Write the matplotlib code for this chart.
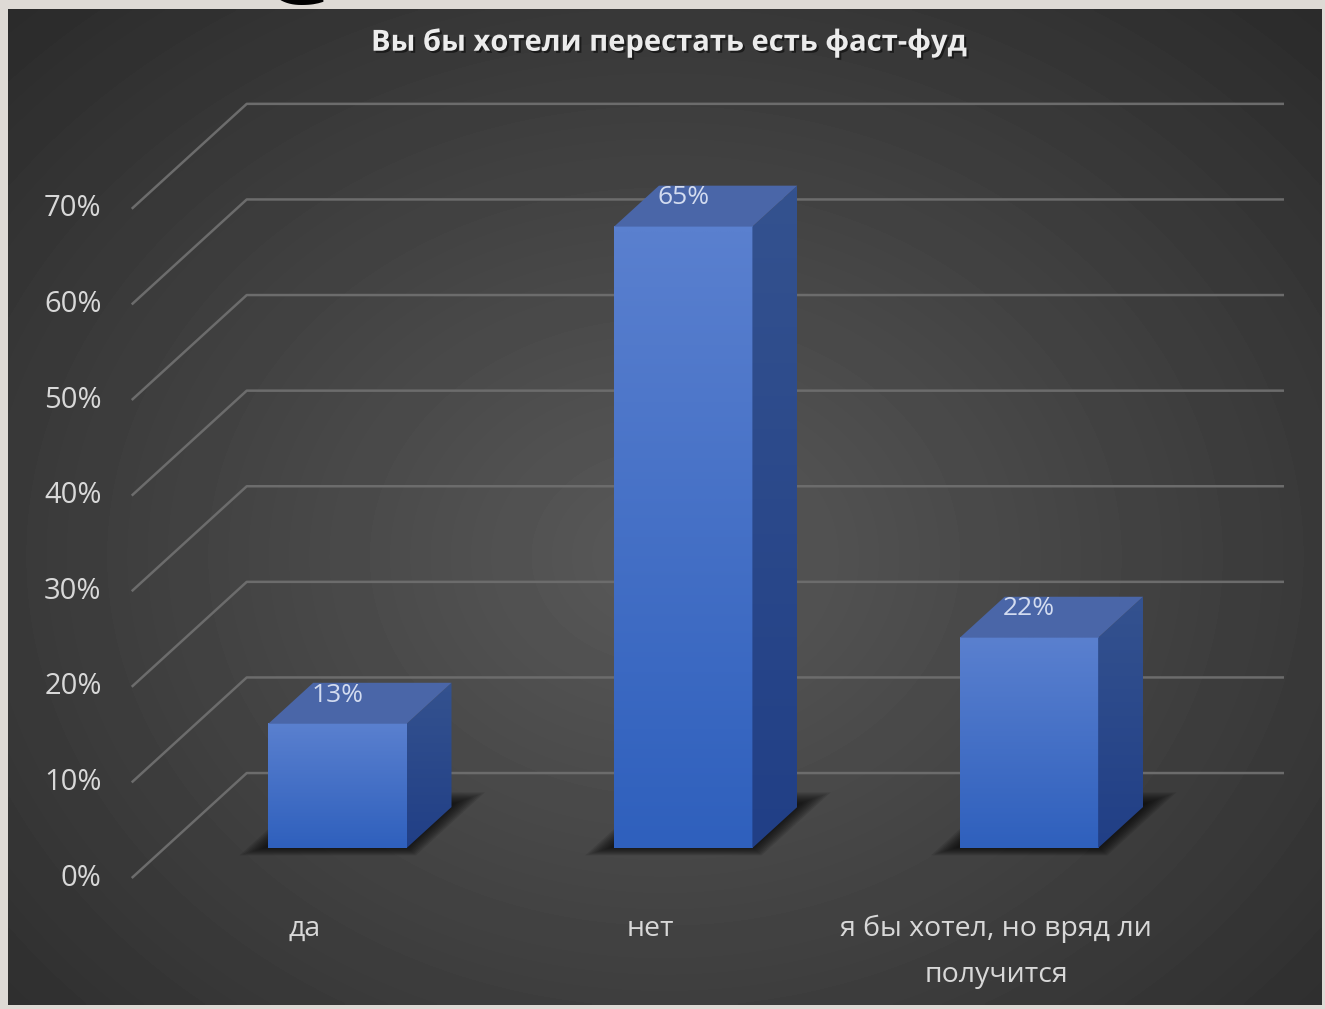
import matplotlib.pyplot as plt
import matplotlib.patheffects as pe
import numpy as np
from matplotlib.patches import Polygon

# survey answers and their shares, %
categories = ["да", "нет", "я бы хотел, но вряд ли\nполучится"]
shares = [13, 65, 22]
ticks = [0, 10, 20, 30, 40, 50, 60, 70]
tick_labels = [f"{t}%" for t in ticks]
title = "Вы бы хотели перестать есть фаст-фуд"

plt.rcParams["font.family"] = ["Open Sans", "DejaVu Sans"]

W, H = 1325, 1009
fig = plt.figure(figsize=(W / 100, H / 100), dpi=100)
fig.patch.set_facecolor("#dedad5")

# big slide letter peeking out above the chart panel
fig.text(292 / W, 1 - 4 / H, "С", fontsize=86, color="black",
         ha="center", va="baseline", zorder=-5)

# dark panel with a soft radial glow
panel = fig.add_axes([8 / W, 4 / H, 1314 / W, 996 / H])
yy, xx = np.mgrid[0:1:300j, 0:1:400j]
r = np.sqrt(((xx - 0.5) / 0.75) ** 2 + ((yy - 0.55) / 0.8) ** 2)
shade = np.clip(0.35 - 0.19 * r, 0.15, 0.4)
panel.imshow(shade, cmap="gray", vmin=0, vmax=1, extent=(0, 1, 0, 1),
             aspect="auto", interpolation="bilinear")
panel.axis("off")

# oblique 3d projection: x in category units, v in percent, d = depth 0..1
DX, DY = 0.3326, 10.98
D0, D1 = 0.286, 0.676
BW = 0.40


def proj(x, v, d):
    return x + (d - D0) * DX, v + (d - D0) * DY


ax = fig.add_axes([0, 0, 1, 1])
ax.axis("off")

# gridlines: diagonal on the side wall, then across the back wall
for t, lab in zip(ticks, tick_labels):
    fx, fy = proj(-0.5, t, 0)
    bx, by = proj(-0.5, t, 1)
    rx, ry = proj(2.5, t, 1)
    ax.plot([fx, bx, rx], [fy, by, ry], color="#6c6c6c", lw=1.8,
            solid_capstyle="butt", zorder=1)
    ax.text(fx - 0.087, fy, lab, ha="right", va="center",
            color="#d8d8d8", fontsize=21)

front_cmap = plt.matplotlib.colors.LinearSegmentedColormap.from_list(
    "front", ["#2f60bd", "#5a80cf"])
side_cmap = plt.matplotlib.colors.LinearSegmentedColormap.from_list(
    "side", ["#213f86", "#34528f"])
grad = np.linspace(1, 0, 100).reshape(-1, 1)

for i, (v, cat) in enumerate(zip(shares, categories)):
    x0, x1 = i - BW / 2, i + BW / 2

    # blurred drop shadow on the floor
    for k in range(10):
        e = 0.006 * k
        foot = [proj(x0 - 0.06 + e, 0, D0 - 0.07 + e * 1.5),
                proj(x1 + 0.05 - e, 0, D0 - 0.07 + e * 1.5),
                proj(x1 + 0.05 - e, 0, D1 + 0.14 - e * 2),
                proj(x0 - 0.06 + e, 0, D1 + 0.14 - e * 2)]
        ax.add_patch(Polygon(foot, closed=True, color="black", alpha=0.1,
                             lw=0, zorder=2))

    # front face
    fx0, fy0 = proj(x0, 0, D0)
    fx1, fy1 = proj(x1, v, D0)
    ax.imshow(grad, cmap=front_cmap, vmin=0, vmax=1, aspect="auto",
              extent=(fx0, fx1, fy0, fy1), interpolation="bilinear", zorder=4)

    # side face
    side = Polygon([proj(x1, 0, D0), proj(x1, 0, D1), proj(x1, v, D1),
                    proj(x1, v, D0)], closed=True, facecolor="none", lw=0)
    ax.add_patch(side)
    sx0, sy0 = proj(x1, 0, D0)
    sx1, sy1 = proj(x1, v, D1)
    im = ax.imshow(grad, cmap=side_cmap, vmin=0, vmax=1, aspect="auto",
                   extent=(sx0, sx1, sy0, sy1), interpolation="bilinear",
                   zorder=4)
    im.set_clip_path(side)

    # top face
    top = [proj(x0, v, D0), proj(x1, v, D0), proj(x1, v, D1), proj(x0, v, D1)]
    ax.add_patch(Polygon(top, closed=True, facecolor="#4a66a8", lw=0,
                         zorder=4))

    # value label on the top face
    ax.text(i, v + 3.0, f"{v}%", ha="center", va="center",
            color="#d3dcf0", fontsize=19, zorder=6)

    # category label under the floor edge
    cx, _ = proj(i, 0, 0)
    ax.text(cx, -7.0, cat, ha="center", va="top", color="#d8d8d8",
            fontsize=20.5, linespacing=1.85, zorder=6)

ax.set_xlim(-337.5 / 345.75, (W - 337.5) / 345.75)
ax.set_ylim(-161 / 9.56, (H - 161) / 9.56)

fig.text(668 / W, 1 - 43 / H, title, ha="center", va="center",
         fontsize=21, fontweight="bold", color="#ececec",
         path_effects=[pe.withSimplePatchShadow(offset=(1.5, -1.5),
                                                shadow_rgbFace="black",
                                                alpha=0.5)])

fig.savefig("out.png", dpi=100)
